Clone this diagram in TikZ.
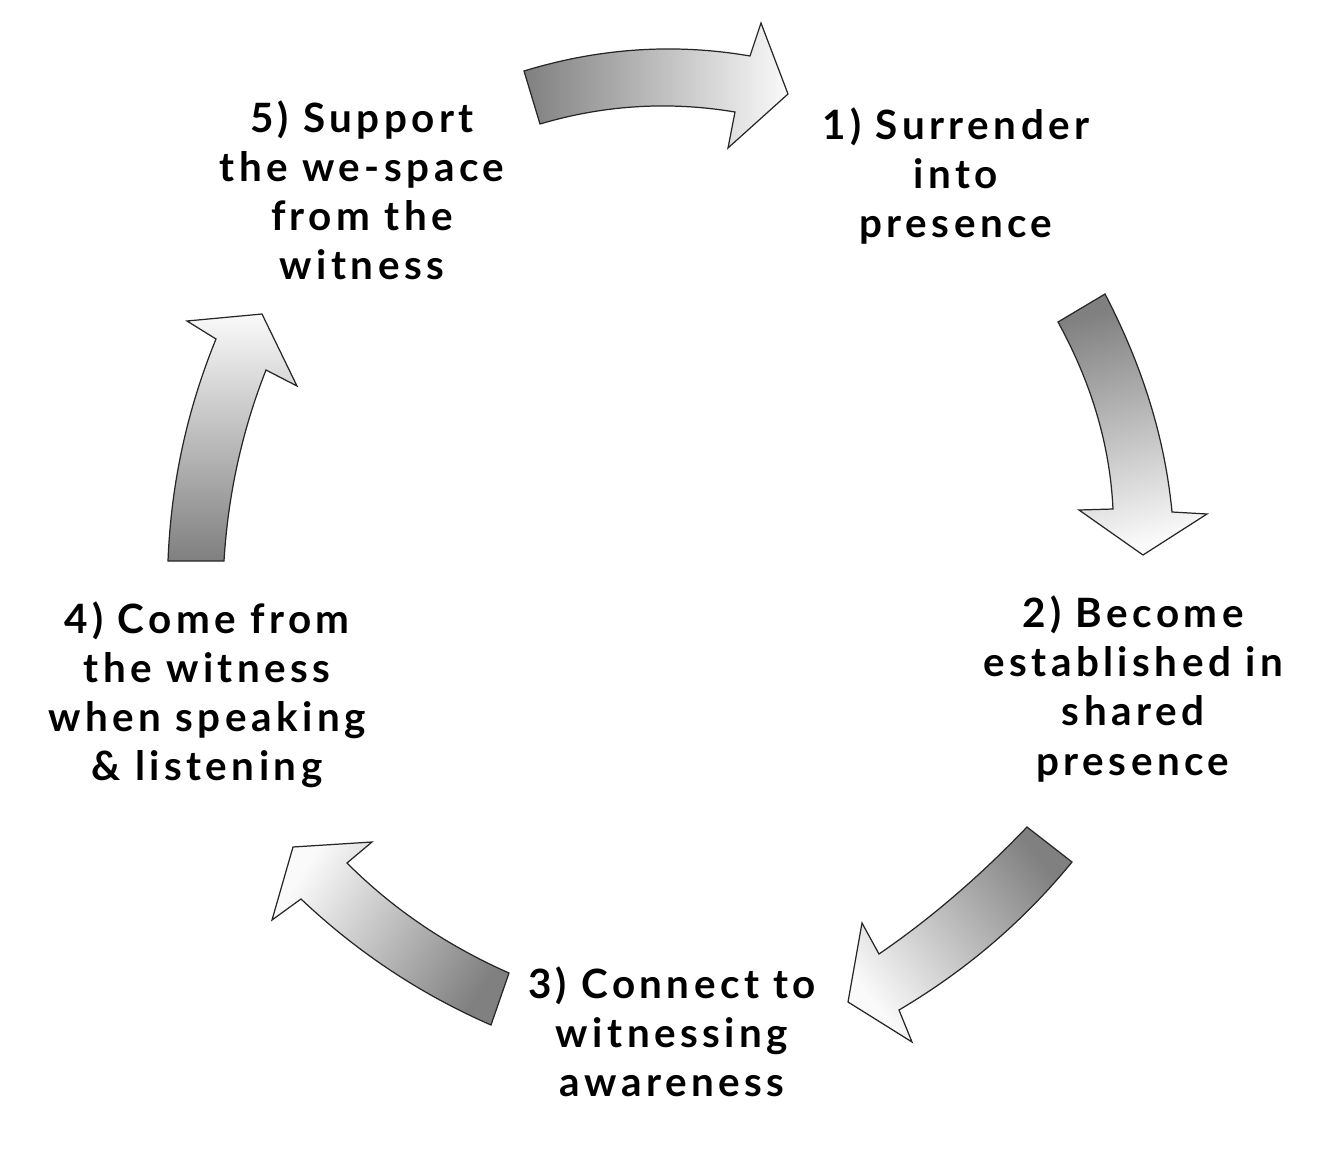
\documentclass[tikz,border=0pt]{standalone}
\usepackage{fontspec}
\setmainfont{Lato}[BoldFont={Lato Bold},LetterSpace=11]
\usepackage{xcolor}
\usetikzlibrary{positioning}
\tikzset{
    step text/.style={align=center, font=\fontsize{23}{27.9}\selectfont\bfseries, inner sep=0pt}, % the five labels
    flow arrow/.style={draw=black!85, line width=0.7pt, line join=miter, top color=black!50, bottom color=black!2, shading angle=#1}, % dark at the tail, light at the head
}

\begin{document}
\begin{tikzpicture}[x=0.02cm, y=-0.02cm]
    \useasboundingbox (0,0) rectangle (1323,1170);

    \node[step text] (surrender) at (956,176) {1) Surrender\\into\\presence};
    \node[step text] (shared) at (1133,689) {2) Become\\established in\\shared\\presence};
    \node[step text] (connect) at (672,1032) {3) Connect to\\witnessing\\awareness};
    \node[step text] (come) at (207,695) {4) Come from\\the witness\\when speaking\\\& listening};
    \node[step text] (support) at (362,190) {5) Support\\the we-space\\from the\\witness};

    % 5 -> 1
    \path[flow arrow=90] (524,71) .. controls (599,48) and (675,43) .. (750,56)
        -- (761,23) -- (788,94) -- (728,148) -- (735,112)
        .. controls (669,101) and (604,105) .. (540,124) -- cycle;
    % 1 -> 2
    \path[flow arrow=15] (1105,294) .. controls (1143,367) and (1165,439) .. (1172,512)
        -- (1207,514) -- (1143,555) -- (1079,510) -- (1113,509)
        .. controls (1110,446) and (1092,384) .. (1058,322) -- cycle;
    % 2 -> 3
    \path[flow arrow=-52] (1027,827) .. controls (982,874) and (933,917) .. (879,954)
        -- (862,923) -- (848,1002) -- (912,1042) -- (899,1010)
        .. controls (965,971) and (1023,922) .. (1072,862) -- cycle;
    % 3 -> 4
    \path[flow arrow=-123] (509,973) .. controls (448,946) and (394,910) .. (347,863)
        -- (372,842) -- (293,847) -- (272,920) -- (301,899)
        .. controls (357,952) and (420,994) .. (491,1025) -- cycle;
    % 4 -> 5
    \path[flow arrow=180] (168,561) .. controls (171,484) and (187,410) .. (216,339)
        -- (187,321) -- (262,314) -- (297,386) -- (266,370)
        .. controls (242,431) and (228,495) .. (224,561) -- cycle;
\end{tikzpicture}
\end{document}
